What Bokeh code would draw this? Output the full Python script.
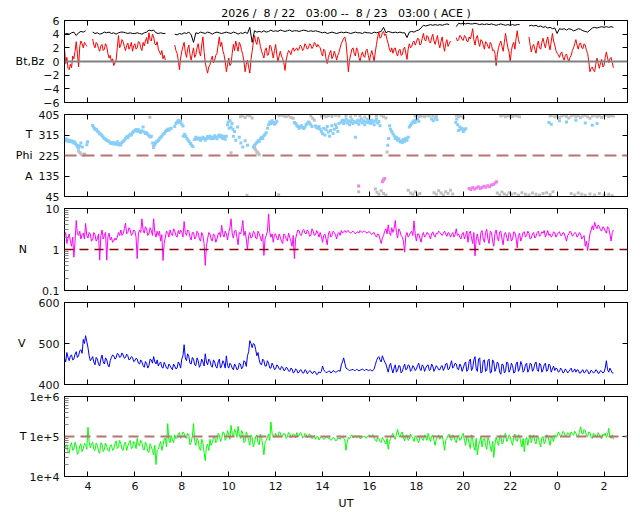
import numpy as np
from bokeh.plotting import figure
from bokeh.models import Range1d, LinearAxis, LogAxis, FixedTicker, Span, Title
from bokeh.layouts import column
from bokeh.embed import file_html
from bokeh.resources import INLINE

nan = float("nan")
FONT = "DejaVu Sans"
FS = "11px"
NB = "\u00a0"

title_text = ("2026 /" + NB + " 8 / 22" + NB + NB + " 03:00 --" + NB + " 8 / 23"
              + NB + NB + " 03:00 ( ACE )")

# ---- x axis ----
x_ticks = [4, 6, 8, 10, 12, 14, 16, 18, 20, 22, 24, 26]
x_tick_labels = ["4", "6", "8", "10", "12", "14", "16", "18", "20", "22", "0", "2"]

# ---- samples every 0.1 h from 03:00 UT (on the tenth) ----
bz = [1.9, 0.6, -1.2, -0.9, 0.4, 2.9, -0.8, 3.0, 2.0, 2.5,
      nan, nan, 3.3, 2.0, 2.6, 1.5, 2.5, 1.8, 2.2, 0.5,
      0.0, -0.6, 0.2, 3.8, 2.4, 2.9, 1.6, 2.7, 2.2, 1.5,
      2.6, 2.0, 2.8, 1.6, 2.3, 3.5, 4.2, 3.0, 3.6, 2.4,
      1.8, 1.0, 0.4, 0.2, nan, nan, nan, 2.4, 1.2, -1.2,
      1.5, 2.8, 0.6, 2.4, 0.2, 2.0, 1.0, 2.6, 0.8, 3.6,
      -0.2, -1.7, -0.5, 0.8, 0.2, 1.2, 3.6, 2.8, 1.0, -1.5,
      0.5, -0.3, 2.5, 3.0, 1.5, 2.4, 1.0, -1.5, 0.2, -1.7,
      1.5, 3.8, 2.5, 3.2, 1.5, 0.5, 2.0, 1.0, 2.2, 0.5,
      2.5, 0.0, 1.5, 0.4, -1.3, 1.0, 1.4, 1.7, 1.5, 2.0,
      1.8, 2.2, 1.9, 2.3, 2.0, 2.4, 2.2, 2.6, 2.5, 2.0,
      0.8, 1.6, -0.3, 1.2, 0.4, 1.5, 0.2, 1.3, 2.6, 3.4,
      2.8, -1.5, 1.0, 2.0, 0.8, 1.6, 0.0, 1.4, 0.6, 1.8,
      0.1, 1.6, 0.0, 2.5, 4.3, 3.6, 4.4, 4.0, 2.6, 1.4,
      1.2, 2.0, 0.8, 1.8, 1.0, 2.1, 0.3, 2.6, 2.2, 3.0,
      2.8, 3.3, 2.6, 4.1, 3.0, 3.6, 2.7, 4.0, 2.5, 3.8,
      2.0, 3.6, 1.5, 3.2, 2.6, nan, nan, 3.5, 3.2, 3.7,
      3.1, 3.6, 2.9, 3.3, 4.8, 2.4, 3.8, 2.2, 3.0, 1.8,
      2.7, 1.9, 2.5, 1.7, -0.6, 2.0, 3.0, 1.5, 4.1, 2.0,
      0.0, 2.4, 1.8, 4.5, 2.6, nan, nan, nan, 3.6, 1.4,
      2.5, 1.2, 3.0, 1.8, 3.4, 2.0, 3.6, 1.7, 4.1, 2.4,
      1.2, 0.6, 1.4, 0.2, 1.1, 0.0, 0.9, 2.0, 3.2, 1.8,
      2.7, 1.9, 2.4, 1.2, -1.5, -0.8, -1.5, 0.5, -1.0, 0.3,
      -0.6, 1.4, -0.2, 0.6, -0.9]
# samples at the half steps (03:03, 03:09, ...)
bz_mid = [-0.3, -1.0, -0.4, 0.8, 1.5, 1.2, 2.2, 2.6, 2.8, 2.2,
          nan, nan, 2.4, 2.8, 1.9, 2.3, 1.6, 2.6, 1.2, 0.9,
          0.4, -0.2, 2.0, 2.0, 3.2, 2.2, 2.3, 1.8, 2.8, 2.3,
          1.8, 2.9, 2.0, 2.8, 3.0, 2.6, 3.2, 4.0, 2.6, 2.9,
          1.4, 1.6, 0.9, nan, nan, nan, nan, 1.6, 0.2, 0.5,
          2.2, 1.4, 1.8, 1.0, 1.2, 0.6, 2.0, 1.4, 2.4, 1.5,
          -1.0, -0.8, 0.3, -0.2, 0.9, 2.4, 2.2, 1.6, 0.0, -0.5,
          -0.6, 1.2, 1.6, 2.2, 2.8, 1.6, 0.0, -0.4, -0.8, 0.3,
          2.8, 2.9, 3.6, 2.2, 1.0, 1.6, 0.9, 2.4, 1.4, 1.6,
          1.0, 0.8, 0.8, -0.2, 0.2, 1.6, 1.0, 2.0, 1.8, 1.6,
          2.4, 1.6, 2.6, 1.8, 2.6, 1.9, 2.8, 2.1, 2.2, 1.3,
          1.8, 0.4, 0.6, 1.6, 0.8, 1.0, 0.9, 2.0, 3.0, 3.6,
          0.8, 0.2, 1.8, 1.2, 2.0, 0.6, 0.9, 0.8, 1.6, 0.9,
          1.0, 0.9, 1.4, 3.6, 3.4, 4.2, 3.8, 3.2, 1.8, 2.0,
          1.8, 1.2, 1.6, 0.9, 1.8, 1.2, 1.8, 2.0, 2.8, 2.4,
          3.4, 2.4, 3.4, 3.2, 3.8, 2.9, 3.5, 3.0, 3.2, 2.6,
          2.9, 2.4, 2.6, 2.2, 3.0, nan, nan, 3.0, 3.8, 3.2,
          3.8, 3.0, 3.6, 3.9, 3.2, 3.4, 2.8, 3.2, 2.4, 2.9,
          2.2, 2.8, 1.6, 1.2, 1.0, 2.6, 2.2, 2.8, 3.0, 1.4,
          1.6, 2.8, 3.4, 3.2, nan, nan, nan, nan, 2.4, 2.2,
          1.8, 2.4, 2.0, 2.8, 2.6, 3.0, 2.4, 3.0, 3.0, 1.6,
          1.0, 1.2, 0.6, 0.9, 0.4, 0.6, 1.6, 2.6, 2.4, 2.6,
          2.0, 2.6, 1.6, 0.0, -1.0, -1.3, -0.4, -0.3, -0.2, -0.8,
          0.6, 0.5, 0.4, -0.2, nan]

bt = [4.0, 4.1, 4.0, 4.2, 4.3, 3.8, 4.2, 4.4, 4.3, 4.5,
      nan, nan, 4.3, 4.1, 4.2, 4.0, 4.1, 4.3, 4.2, 4.3,
      4.1, 4.2, 4.0, 4.2, 4.3, 4.3, 4.2, 4.1, 4.2, 4.1,
      4.1, 4.2, 4.1, 4.0, 4.2, 4.3, 4.6, 4.5, 4.6, 4.2,
      4.1, 4.2, 4.1, 4.1, nan, nan, nan, 4.0, 3.9, 4.1,
      4.0, 4.2, 4.1, 4.3, 3.9, 2.8, 4.2, 4.1, 4.3, 4.2,
      4.1, 4.3, 4.2, 4.0, 4.2, 4.3, 4.2, 4.1, 4.2, 4.3,
      4.2, 4.1, 4.3, 4.2, 4.0, 4.2, 4.1, 4.3, 4.1, 5.0,
      2.8, 4.5, 4.3, 4.4, 4.3, 4.5, 4.3, 4.4, 4.6, 4.4,
      4.5, 4.4, 4.6, 4.5, 4.4, 4.5, 4.6, 4.4, 4.5, 4.5,
      4.4, 4.5, 4.6, 4.5, 4.4, 4.5, 4.4, 4.5, 4.4, 4.3,
      4.2, 4.3, 4.1, 4.2, 4.3, 4.2, 4.1, 4.2, 4.3, 4.2,
      4.3, 4.2, 4.1, 4.2, 4.3, 4.2, 4.2, 4.1, 4.3, 4.2,
      4.2, 4.1, 4.3, 4.2, 4.3, 4.4, 5.0, 4.2, 4.4, 4.3,
      4.2, 4.3, 4.2, 4.3, 4.2, 4.2, 3.5, 4.3, 4.4, 4.3,
      4.5, 4.6, 4.9, 5.3, 5.2, 5.3, 5.4, 5.3, 5.4, 5.3,
      5.4, 5.3, 5.4, 5.5, 5.4, nan, nan, 5.1, 5.6, 5.5,
      5.6, 5.5, 5.6, 5.5, 5.5, 5.6, 5.5, 5.4, 5.5, 5.4,
      5.5, 5.4, 5.5, 5.4, 5.3, 5.4, 5.5, 5.4, 5.3, 5.4,
      5.3, 5.4, 5.3, 5.4, 5.4, nan, nan, nan, 5.2, 5.3,
      5.2, 5.3, 5.1, 5.2, 5.0, 5.1, 4.9, 5.0, 4.8, 4.9,
      4.1, 4.8, 4.7, 4.8, 4.6, 4.8, 4.7, 4.5, 4.6, 4.8,
      4.7, 4.5, 4.4, 4.3, 4.6, 4.9, 5.0, 4.9, 5.0, 5.1,
      5.0, 5.1, 5.0, 5.1, 5.0]

dens = [2.0, 1.4, 2.4, 1.2, 0.65, 5.1, 2.2, 1.8, 2.5, 4.3,
        1.9, 2.4, 1.7, 2.3, 1.8, 0.55, 3.0, 2.2, 0.55, 2.5,
        2.0, 1.6, 1.7, 2.6, 3.0, 2.4, 4.4, 2.6, 3.0, 2.4,
        2.8, 0.6, 3.0, 5.6, 2.5, 3.2, 2.4, 2.9, 5.6, 2.0,
        2.2, 1.6, 0.54, 2.0, 2.6, 3.0, 2.2, 2.8, 2.0, 2.4,
        2.6, 4.8, 2.2, 2.8, 1.7, 2.6, 2.0, 2.5, 1.6, 2.2,
        0.41, 1.8, 2.4, 1.6, 2.2, 1.8, 2.6, 3.9, 2.0, 2.4,
        2.6, 5.6, 1.9, 3.0, 1.3, 2.4, 5.1, 2.8, 1.0, 2.6,
        2.0, 2.6, 1.8, 2.4, 1.6, 0.72, 2.2, 7.4, 2.0, 1.5,
        2.4, 1.7, 2.0, 1.4, 2.2, 1.6, 2.0, 1.2, 0.6, 2.4,
        2.9, 2.2, 3.1, 2.4, 2.7, 2.2, 2.8, 2.3, 2.5, 2.6,
        1.5, 2.4, 1.3, 2.8, 2.2, 2.6, 1.8, 2.6, 2.9, 2.7,
        2.6, 2.9, 2.5, 2.8, 2.4, 2.7, 2.9, 2.6, 2.8, 2.5,
        2.7, 2.3, 2.6, 2.0, 2.3, 1.4, 2.2, 3.2, 4.0, 2.2,
        2.6, 5.1, 1.9, 2.8, 2.0, 0.86, 2.6, 2.2, 2.8, 5.0,
        1.6, 2.4, 1.5, 2.6, 2.2, 2.5, 1.8, 2.7, 2.0, 2.4,
        2.6, 2.2, 2.8, 2.1, 2.5, 2.3, 2.0, 3.2, 2.4, 1.8,
        2.6, 2.2, 1.5, 2.8, 1.4, 0.7, 2.4, 1.3, 2.9, 1.5,
        3.1, 1.4, 2.6, 1.2, 3.0, 1.6, 2.8, 1.3, 2.6, 1.6,
        2.4, 1.8, 2.6, 1.1, 2.5, 2.0, 2.7, 2.2, 2.5, 1.9,
        2.6, 2.1, 2.8, 2.3, 2.5, 2.0, 2.9, 2.4, 2.2, 2.6,
        2.3, 2.7, 2.2, 2.5, 1.6, 2.4, 2.6, 2.3, 2.5, 2.2,
        2.4, 2.0, 1.2, 0.95, 2.4, 3.8, 4.6, 3.2, 3.6, 2.8,
        3.4, 2.5, 3.3, 1.6, 3.0]
dens_mid = [2.6, 1.9, 1.6, 2.0, 1.6, 2.4, 2.8, 2.3, 1.8, 2.2,
            2.6, 1.6, 2.6, 1.6, 2.4, 2.2, 1.8, 2.6, 2.0, 1.7,
            1.5, 1.9, 2.0, 2.2, 2.2, 3.2, 2.4, 3.4, 2.2, 3.0,
            2.0, 2.4, 2.6, 3.0, 3.6, 2.2, 3.4, 2.2, 2.6, 2.8,
            2.8, 2.3, 1.4, 2.8, 2.0, 2.4, 3.2, 2.2, 2.9, 3.0,
            2.0, 2.6, 3.0, 2.0, 2.6, 1.8, 2.8, 1.8, 2.6, 1.4,
            1.2, 2.6, 1.8, 2.4, 1.5, 2.4, 2.0, 2.4, 2.8, 1.7,
            3.4, 2.4, 2.8, 2.0, 2.6, 3.0, 2.2, 1.8, 2.2, 1.9,
            2.8, 1.9, 2.8, 2.0, 2.4, 1.8, 2.8, 2.6, 2.4, 2.3,
            1.9, 2.4, 1.6, 2.4, 1.8, 2.5, 1.6, 2.2, 1.8, 3.0,
            2.3, 2.9, 2.5, 3.0, 2.1, 3.2, 2.2, 2.9, 2.0, 2.1,
            2.2, 1.8, 2.4, 2.0, 2.8, 2.3, 2.4, 2.2, 2.5, 2.9,
            2.8, 2.6, 2.7, 2.6, 2.6, 2.5, 2.7, 2.8, 2.6, 2.7,
            2.5, 2.5, 2.2, 2.4, 1.8, 1.9, 2.8, 2.4, 2.6, 3.4,
            3.2, 2.6, 3.2, 2.2, 1.6, 2.2, 2.0, 2.6, 2.2, 2.4,
            2.4, 1.9, 2.2, 2.0, 2.6, 2.2, 2.4, 2.2, 2.5, 2.8,
            2.4, 2.5, 2.4, 2.6, 2.0, 2.6, 2.3, 2.2, 2.0, 2.4,
            1.8, 2.8, 2.5, 1.9, 2.6, 1.8, 1.6, 2.6, 1.8, 2.6,
            1.8, 2.8, 1.6, 2.4, 2.0, 2.7, 1.8, 2.4, 2.0, 2.6,
            1.6, 2.7, 1.9, 2.2, 1.6, 2.6, 2.0, 2.8, 1.8, 2.4,
            1.9, 2.6, 2.1, 2.7, 2.9, 2.4, 2.2, 2.0, 2.7, 2.0,
            2.6, 2.2, 2.6, 2.0, 2.2, 2.8, 2.1, 2.6, 2.0, 2.6,
            1.8, 2.2, 1.6, 1.5, 3.0, 3.0, 3.6, 4.0, 3.0, 3.6,
            2.8, 3.6, 2.4, 2.6, nan]

vel = [465, 478, 458, 472, 462, 480, 470, 485, 510, 519,
       490, 458, 468, 448, 462, 445, 472, 450, 460, 443,
       466, 470, 465, 474, 468, 472, 466, 470, 462, 466,
       458, 462, 450, 455, 442, 452, 446, 460, 468, 450,
       445, 455, 440, 448, 438, 446, 436, 445, 440, 450,
       462, 497, 458, 468, 450, 462, 446, 458, 448, 455,
       475, 448, 458, 442, 455, 440, 462, 445, 452, 470,
       440, 448, 436, 445, 438, 450, 442, 455, 470, 507,
       490, 498, 470, 460, 448, 458, 445, 452, 440, 446,
       438, 445, 436, 442, 435, 440, 432, 438, 430, 436,
       430, 435, 428, 434, 430, 432, 428, 430, 426, 428,
       445, 432, 430, 433, 430, 432, 431, 434, 448, 465,
       440, 436, 435, 437, 434, 436, 435, 438, 434, 436,
       435, 433, 438, 458, 468, 455, 462, 450, 430, 452,
       428, 448, 435, 445, 432, 450, 438, 446, 436, 442,
       438, 452, 434, 444, 440, 448, 436, 445, 438, 442,
       436, 446, 440, 452, 438, 458, 444, 450, 436, 445,
       440, 455, 436, 462, 440, 468, 432, 465, 430, 460,
       435, 462, 430, 455, 440, 450, 425, 448, 432, 452,
       436, 446, 430, 455, 438, 448, 434, 452, 436, 450,
       438, 455, 432, 448, 436, 452, 435, 446, 438, 434,
       438, 432, 436, 430, 434, 432, 440, 433, 430, 435,
       428, 436, 430, 434, 428, 432, 430, 434, 428, 432,
       430, 458, 430, 434, 428]
vel_mid = [455, 466, 470, 460, 474, 466, 482, 476, 500, 505,
           470, 462, 455, 466, 450, 462, 455, 465, 448, 458,
           472, 462, 476, 466, 477, 464, 474, 460, 468, 456,
           464, 452, 460, 446, 456, 440, 462, 452, 455, 460,
           452, 442, 454, 440, 450, 440, 450, 438, 455, 440,
           470, 465, 475, 452, 466, 448, 465, 442, 462, 445,
           455, 462, 446, 460, 444, 455, 440, 458, 440, 446,
           452, 440, 450, 436, 452, 438, 458, 444, 480, 500,
           500, 485, 478, 450, 462, 445, 458, 440, 452, 436,
           448, 438, 444, 434, 442, 433, 440, 428, 438, 428,
           436, 428, 436, 426, 434, 427, 433, 424, 431, 432,
           436, 429, 432, 428, 434, 430, 433, 432, 455, 452,
           438, 434, 436, 434, 437, 433, 436, 435, 437, 434,
           436, 434, 448, 465, 460, 470, 455, 440, 445, 438,
           440, 430, 446, 428, 442, 436, 448, 432, 446, 434,
           446, 438, 448, 432, 446, 434, 450, 432, 446, 436,
           444, 434, 450, 436, 448, 440, 452, 438, 450, 432,
           450, 432, 456, 434, 460, 438, 462, 428, 458, 432,
           458, 428, 460, 432, 455, 430, 450, 428, 455, 430,
           452, 428, 450, 432, 456, 430, 448, 430, 452, 432,
           450, 436, 452, 430, 448, 432, 450, 430, 445, 440,
           430, 440, 428, 438, 428, 436, 430, 438, 436, 428,
           434, 428, 436, 426, 435, 428, 436, 427, 434, 428,
           440, 436, 440, 428, nan]

temp_k = [45, 62, 38, 70, 48, 58, 40, 66, 50, 60,
          170, 52, 72, 45, 60, 38, 65, 48, 56, 42,
          62, 48, 78, 55, 68, 45, 72, 58, 80, 52,
          66, 90, 58, 70, 46, 62, 40, 55, 35, 20,
          48, 75, 60, 90, 210, 70, 85, 110, 95, 125,
          105, 118, 90, 110, 72, 210, 60, 80, 45, 70,
          25, 65, 85, 70, 100, 80, 110, 90, 125, 95,
          115, 190, 100, 130, 180, 90, 120, 75, 105, 60,
          95, 70, 110, 62, 90, 35, 80, 115, 230, 105,
          120, 95, 125, 105, 115, 98, 120, 100, 110, 125,
          105, 118, 98, 112, 100, 108, 95, 85, 100, 92,
          95, 88, 100, 92, 85, 90, 80, 92, 98, 90,
          45, 95, 100, 92, 105, 98, 88, 96, 102, 95,
          110, 98, 90, 75, 88, 70, 85, 65, 48, 90,
          120, 85, 150, 95, 130, 78, 110, 85, 100, 75,
          95, 70, 105, 80, 98, 120, 75, 110, 60, 95,
          85, 105, 45, 90, 115, 80, 100, 70, 110, 85,
          120, 60, 95, 50, 85, 45, 35, 75, 55, 90,
          48, 80, 42, 30, 95, 60, 110, 70, 120, 85,
          100, 60, 115, 75, 105, 55, 42, 95, 88, 70,
          110, 65, 95, 55, 100, 75, 105, 60, 90, 110,
          100, 120, 110, 125, 105, 118, 130, 108, 122, 100,
          175, 115, 140, 100, 125, 90, 115, 95, 110, 88,
          105, 95, 160, 90, 85]
temp_k_mid = [58, 42, 60, 45, 72, 36, 58, 42, 68, 48,
              75, 65, 48, 68, 44, 70, 42, 68, 45, 60,
              45, 66, 50, 80, 48, 66, 45, 70, 50, 75,
              50, 62, 80, 48, 72, 42, 66, 45, 60, 45,
              62, 45, 88, 55, 80, 105, 70, 88, 115, 90,
              130, 95, 120, 62, 100, 75, 90, 50, 85, 40,
              55, 45, 60, 95, 70, 120, 75, 130, 80, 140,
              85, 120, 150, 95, 110, 140, 70, 130, 80, 110,
              55, 100, 70, 115, 60, 70, 95, 80, 120, 95,
              100, 130, 95, 120, 90, 125, 95, 118, 92, 100,
              125, 92, 120, 92, 115, 88, 108, 98, 82, 100,
              85, 98, 88, 80, 95, 78, 92, 85, 100, 82,
              70, 88, 110, 100, 95, 105, 92, 100, 90, 105,
              100, 112, 82, 95, 75, 95, 72, 90, 75, 105,
              95, 115, 110, 120, 92, 105, 80, 115, 90, 105,
              80, 100, 85, 110, 80, 92, 100, 80, 88, 110,
              100, 75, 80, 105, 85, 110, 80, 95, 80, 105,
              80, 100, 65, 110, 55, 90, 60, 100, 85, 60,
              95, 55, 75, 65, 75, 100, 65, 105, 75, 110,
              75, 95, 80, 110, 70, 90, 80, 60, 110, 100,
              75, 105, 70, 95, 65, 110, 80, 100, 75, 95,
              130, 95, 135, 100, 125, 105, 115, 135, 98, 125,
              120, 150, 105, 130, 95, 120, 100, 125, 95, 115,
              120, 110, 100, 110, nan]

# ---- flow angle (Phi) points: hour, degrees ----
phi_blue_hr = [3.00, 3.04, 3.08, 3.12, 3.16, 3.20, 3.24, 3.28, 3.32, 3.36, 3.40, 3.44, 3.48, 3.52, 3.56, 3.60, 3.64, 3.70, 3.76, 3.95, 3.98,
               4.20, 4.24, 4.28, 4.32, 4.36, 4.40, 4.45, 4.50, 4.55, 4.60, 4.65, 4.70, 4.75, 4.80, 4.85, 4.90, 4.95, 5.00, 5.05, 5.10, 5.15,
               5.20, 5.25, 5.30, 5.35, 5.40, 5.45, 5.50, 5.55, 5.60, 5.65, 5.70, 5.75, 5.80, 5.85, 5.90, 5.95, 6.00, 6.05,
               6.10, 6.15, 6.20, 6.25, 6.30, 6.35, 6.40, 6.45, 6.50, 6.55, 6.60, 6.65, 6.70, 6.76, 6.80, 6.84, 6.88, 6.92,
               6.96, 7.00, 7.05, 7.10, 7.15, 7.20, 7.25, 7.30, 7.35, 7.40, 7.45, 7.50, 7.55,
               7.70, 7.75, 7.80, 7.85, 7.90, 7.95, 8.00, 8.05, 8.06, 8.12, 8.17, 8.22, 8.27, 8.32, 8.37, 8.42, 8.47,
               8.55, 8.60, 8.65, 8.70, 8.75, 8.80, 8.85, 8.90, 8.95, 9.00, 9.05,
               9.10, 9.15, 9.20, 9.25, 9.30, 9.35, 9.40, 9.45, 9.50, 9.55, 9.60, 9.65, 9.70, 9.75, 9.80, 9.85, 9.90,
               9.95, 9.98, 10.02, 10.06, 10.10, 10.14, 10.18, 10.20, 10.25, 10.30, 10.38, 10.45, 10.52, 10.60, 10.70, 10.80,
               11.05, 11.10, 11.15, 11.20, 11.25, 11.30, 11.35, 11.40, 11.45, 11.50, 11.55, 11.60,
               11.65, 11.70, 11.75, 11.80, 11.85, 11.90, 11.95, 12.00, 12.05,
               12.80, 12.85, 12.90, 12.95, 13.00, 13.05, 13.10, 13.15, 13.20, 13.25, 13.30, 13.35, 13.40, 13.45, 13.50, 13.55,
               13.70, 13.75, 13.80, 13.85, 13.90,
               13.95, 14.00, 14.05, 14.10, 14.15, 14.20, 14.25, 14.30, 14.35, 14.40, 14.45, 14.50, 14.55, 14.60, 14.65, 14.70,
               14.80, 14.85, 14.90, 14.95, 15.00, 15.05, 15.10, 15.15, 15.20, 15.25, 15.30, 15.35, 15.40, 15.45, 15.50, 15.55,
               15.60, 15.65, 15.70, 15.75, 15.80, 15.85, 15.90, 15.95, 16.00, 16.05, 16.10, 16.15, 16.20, 16.25, 16.30, 16.35, 16.40, 16.45,
               16.78, 16.82, 16.86, 16.90, 16.95, 17.00, 17.05, 17.10, 17.15, 17.20, 17.25, 17.30, 17.35, 17.40, 17.45, 17.50, 17.55, 17.60, 17.65,
               17.70, 17.75, 17.80, 17.85, 17.90, 17.95, 18.00, 18.05, 18.10,
               18.65, 18.72, 18.80, 18.88,
               19.68, 19.72, 19.76, 19.80, 19.85, 19.90, 19.95, 20.00, 20.05, 20.10,
               23.65, 23.75, 24.10, 24.40, 24.80, 25.20, 25.50, 25.70]
phi_blue_deg = [295, 298, 290, 294, 288, 292, 286, 290, 284, 288, 280, 284, 276, 270, 262, 258, 268, 280, 262, 272, 285,
                357, 350, 343, 338, 340, 332, 328, 321, 318, 312, 306, 300, 296, 292, 290, 286, 280, 278, 282, 276, 280,
                274, 285, 272, 278, 271, 282, 286, 292, 300, 307, 303, 312, 318, 315, 325, 330, 335, 339,
                332, 338, 330, 326, 334, 350, 328, 322, 325, 318, 312, 306, 310, 280, 268, 272, 280, 285,
                288, 292, 298, 305, 310, 318, 322, 330, 335, 340, 336, 342, 345,
                352, 365, 372, 379, 370, 375, 362, 355, 310, 318, 308, 300, 292, 285, 278, 270, 265,
                295, 305, 300, 296, 302, 292, 298, 305, 300, 292, 298,
                308, 302, 310, 298, 305, 300, 312, 305, 298, 310, 315, 306, 312, 300, 308, 296, 310,
                360, 372, 345, 378, 350, 365, 340, 310, 330, 292, 350, 305, 280, 262, 290, 270,
                262, 270, 275, 282, 290, 286, 298, 305, 300, 312, 318, 325,
                345, 360, 372, 365, 378, 370, 362, 368, 375,
                370, 365, 358, 352, 345, 350, 356, 348, 343, 350, 360, 365, 372, 368, 360, 352,
                355, 348, 345, 352, 340,
                330, 320, 345, 315, 338, 352, 328, 310, 335, 356, 322, 340, 360, 348, 330, 365,
                372, 380, 365, 376, 385, 368, 378, 360, 372, 382, 366, 374, 305, 370, 380, 362,
                375, 385, 368, 378, 360, 372, 384, 370, 378, 365, 380, 372, 360, 376, 384, 368, 374, 356,
                270, 300, 356, 340, 330, 320, 312, 300, 305, 292, 298, 285, 290, 282, 295, 288, 300, 292, 305,
                350, 358, 365, 372, 378, 370, 382, 385, 375,
                385, 378, 390, 382,
                370, 385, 360, 335, 350, 340, 345, 330, 338, 342,
                370, 362, 378, 372, 380, 368, 358, 365]

phi_gray_hr = [3.60, 3.65, 3.70, 3.75, 3.80, 3.85, 6.64, 6.80, 10.10,
               10.50, 10.60, 10.70, 10.80, 10.90, 11.00, 11.10, 11.15, 11.20, 11.22, 11.25, 11.30,
               12.15, 12.25, 12.35, 12.45, 12.55, 12.65, 12.75, 13.50, 13.58, 13.65,
               13.95, 14.05, 14.15, 14.25, 14.40, 14.55, 14.70,
               15.00, 15.20, 15.40, 15.60, 15.80, 16.00, 16.30, 16.50, 16.60, 16.70, 16.75,
               17.95, 18.05, 18.15, 18.25, 18.35, 18.45, 18.55, 18.70, 18.85,
               19.70, 19.80, 19.90, 20.00,
               21.60, 21.70, 21.80, 21.90, 22.00, 22.10, 22.20, 22.30, 22.40,
               23.70, 23.80, 23.90, 24.00, 24.10, 24.20, 24.30, 24.40, 24.50, 24.60, 24.70, 24.80, 24.90, 25.00,
               25.10, 25.20, 25.30, 25.40, 25.50, 25.60, 25.70, 25.80, 25.90, 26.00, 26.10, 26.20, 26.30, 26.40,
               10.78, 12.13, 15.54, 16.25, 16.32, 16.40, 16.50, 16.60, 16.70,
               17.65, 17.75, 17.85, 17.95, 18.05, 18.15,
               18.75, 18.85, 18.95, 19.05, 19.15, 19.25, 19.35, 19.45, 19.55,
               21.45, 21.55, 21.65, 21.75, 21.85, 21.95, 22.05, 22.20, 22.35, 22.50, 22.65, 22.80, 22.95,
               23.10, 23.25, 23.40, 23.55, 23.70, 23.82,
               24.60, 24.75, 24.90, 25.05, 25.20, 25.40, 25.60, 25.80, 26.00, 26.20, 26.35]
phi_gray_deg = [245, 238, 232, 228, 226, 232, 393, 260, 237,
                395, 400, 392, 402, 398, 390, 258, 250, 242, 238, 235, 228,
                400, 402, 398, 395, 400, 392, 388, 398, 388, 380,
                398, 402, 395, 400, 396, 402, 398,
                400, 395, 402, 398, 394, 400, 398, 402, 395, 390, 240,
                398, 402, 396, 400, 395, 402, 398, 400, 396,
                402, 395, 398, 392,
                398, 402, 395, 400, 398, 396, 402, 398, 395,
                398, 402, 395, 400, 392, 398, 402, 396, 390, 398, 402, 395, 400, 392,
                398, 402, 395, 388, 398, 402, 395, 400, 392, 398, 402, 396, 400, 398,
                51, 53, 66, 78, 64, 55, 70, 58, 52,
                72, 60, 55, 66, 52, 58,
                62, 55, 70, 60, 52, 66, 58, 72, 56,
                60, 52, 65, 56, 50, 62, 55, 58, 50, 62, 55, 52, 60,
                55, 50, 58, 62, 54, 66,
                58, 52, 60, 55, 50, 56, 52, 58, 50, 55, 48]

phi_violet_hr = [15.54, 16.55, 16.60, 16.65,
                 20.25, 20.32, 20.40, 20.48, 20.56, 20.64, 20.72, 20.80, 20.88, 20.96,
                 21.04, 21.12, 21.20, 21.28, 21.36, 21.42]
phi_violet_deg = [91, 110, 118, 124,
                  80, 76, 84, 78, 82, 88, 80, 85, 90, 86,
                  92, 88, 95, 98, 104, 110]

# ---- axis ticks ----
b_ticks = [-6, -4, -2, 0, 2, 4, 6]
b_tick_labels = ["\u22126", "\u22124", "\u22122", "0", "2", "4", "6"]
phi_ticks = [45, 135, 225, 315, 405]
phi_tick_labels = ["45", "135", "225", "315", "405"]
n_ticks = [0.1, 1, 10]
n_tick_labels = ["0.1", "1", "10"]
v_ticks = [400, 500, 600]
v_tick_labels = ["400", "500", "600"]
t_ticks = [1e4, 1e5, 1e6]
t_tick_labels = ["1e+4", "1e+5", "1e+6"]
n_minor = [0.2, 0.3, 0.4, 0.5, 0.6, 0.7, 0.8, 0.9, 2, 3, 4, 5, 6, 7, 8, 9]
t_minor = [2e4, 3e4, 4e4, 5e4, 6e4, 7e4, 8e4, 9e4, 2e5, 3e5, 4e5, 5e5, 6e5, 7e5, 8e5, 9e5]


def hours_for(series, step=0.1):
    return [3.0 + step * i for i in range(len(series))]


def merge(main, mid):
    out = []
    for a, b in zip(main, mid):
        out.append(a)
        out.append(b)
    return out


xr = Range1d(3, 27)


def style_axis(ax, labels=True, minor=False):
    ax.axis_line_color = "black"
    ax.major_tick_line_color = "black"
    ax.major_tick_in = 5
    ax.major_tick_out = 0
    if minor:
        ax.minor_tick_line_color = "#808080"
        ax.minor_tick_in = 4
        ax.minor_tick_out = 0
    else:
        ax.minor_tick_line_color = None
    if labels:
        ax.major_label_text_font = FONT
        ax.major_label_text_font_size = FS
        ax.major_label_text_color = "#111111"
        ax.major_label_standoff = 5
    else:
        ax.major_label_text_font_size = "0px"
        ax.major_label_standoff = 0


def panel(y_range, height, top, bottom, yticks, ylabels, ylabel, ylabel_standoff,
          log=False, minor=None, xlabels=False, line_height=1.2):
    p = figure(width=638, height=height, x_range=xr, y_range=y_range,
               y_axis_type="log" if log else "linear",
               x_axis_location=None, y_axis_location=None,
               output_backend="svg", toolbar_location=None,
               min_border_left=64, min_border_right=11,
               min_border_top=top, min_border_bottom=bottom)
    p.grid.visible = False
    p.outline_line_color = "black"
    p.outline_line_alpha = 1.0
    p.background_fill_color = "white"
    p.border_fill_color = "white"
    Axis = LogAxis if log else LinearAxis
    left = Axis(ticker=FixedTicker(ticks=yticks, minor_ticks=minor or []))
    left.major_label_overrides = dict(zip(yticks, ylabels))
    style_axis(left, labels=True, minor=bool(minor))
    left.axis_label = ylabel
    left.axis_label_orientation = "horizontal"
    left.axis_label_text_font = FONT
    left.axis_label_text_font_size = FS
    left.axis_label_text_font_style = "normal"
    left.axis_label_text_color = "black"
    left.axis_label_standoff = ylabel_standoff
    left.axis_label_text_line_height = line_height
    p.add_layout(left, "left")
    right = Axis(ticker=FixedTicker(ticks=yticks))
    right.major_label_overrides = {t: "" for t in yticks}
    style_axis(right, labels=False)
    p.add_layout(right, "right")
    bot = LinearAxis(ticker=FixedTicker(ticks=x_ticks))
    if xlabels:
        bot.major_label_overrides = dict(zip(x_ticks, x_tick_labels))
        style_axis(bot, labels=True)
        bot.major_label_standoff = 5
        bot.axis_label = "UT"
        bot.axis_label_text_font = FONT
        bot.axis_label_text_font_size = FS
        bot.axis_label_text_font_style = "normal"
        bot.axis_label_text_color = "black"
        bot.axis_label_standoff = 4
    else:
        bot.major_label_overrides = {t: "" for t in x_ticks}
        style_axis(bot, labels=False)
    p.add_layout(bot, "below")
    topax = LinearAxis(ticker=FixedTicker(ticks=x_ticks))
    topax.major_label_overrides = {t: "" for t in x_ticks}
    style_axis(topax, labels=False)
    p.add_layout(topax, "above")
    return p


# ---- panel 1: Bt, Bz ----
p1 = panel(Range1d(-6, 6), 108, 20, 6, b_ticks, b_tick_labels, "Bt,Bz", -4)
p1.add_layout(Title(text=title_text, align="center", text_font=FONT, text_font_size=FS,
                    text_font_style="normal", text_color="black", standoff=2, offset=8), "above")
p1.add_layout(Span(location=0, dimension="width", line_color="#808080", line_width=2))
p1.line(hours_for(bt), bt, line_color="black", line_width=1)
bz_all = merge(bz, bz_mid)
p1.line(hours_for(bz_all, 0.05), bz_all, line_color="red", line_width=1)

# ---- panel 2: Phi ----
p2 = panel(Range1d(45, 405), 94, 6, 6, phi_ticks, phi_tick_labels, "T\nPhi\nA", 3, line_height=1.6)
p2.scatter(phi_gray_hr, phi_gray_deg, marker="square", size=3, color="#c0c0c0", line_color=None)
p2.scatter(phi_blue_hr, phi_blue_deg, marker="square", size=3, color="#87cefa", line_color=None)
p2.scatter(phi_violet_hr, phi_violet_deg, marker="square", size=3, color="#ee82ee", line_color=None)
p2.add_layout(Span(location=225, dimension="width", line_color="#b87373", line_width=2, line_dash="12 6"))

# ---- panel 3: N ----
p3 = panel(Range1d(0.1, 10), 94, 6, 6, n_ticks, n_tick_labels, "N", 12, log=True, minor=n_minor)
dens_all = merge(dens, dens_mid)
p3.line(hours_for(dens_all, 0.05), dens_all, line_color="#ff00ff", line_width=1)
p3.add_layout(Span(location=1, dimension="width", line_color="#8b0000", line_width=1.5, line_dash="9 6"))

# ---- panel 4: V ----
p4 = panel(Range1d(400, 600), 94, 6, 6, v_ticks, v_tick_labels, "V", 10)
vel_all = merge(vel, vel_mid)
p4.line(hours_for(vel_all, 0.05), vel_all, line_color="#0000ff", line_width=1)

# ---- panel 5: T ----
temp = [v * 1000.0 for v in merge(temp_k, temp_k_mid)]
p5 = panel(Range1d(1e4, 1e6), 122, 6, 35, t_ticks, t_tick_labels, "T", 0,
           log=True, minor=t_minor, xlabels=True)
p5.line(hours_for(temp, 0.05), temp, line_color="#00ff00", line_width=1)
p5.add_layout(Span(location=1e5, dimension="width", line_color="#b87373", line_width=2, line_dash="10 6"))

layout = column(p1, p2, p3, p4, p5, spacing=0)
open("out.html", "w").write(file_html(layout, INLINE))
